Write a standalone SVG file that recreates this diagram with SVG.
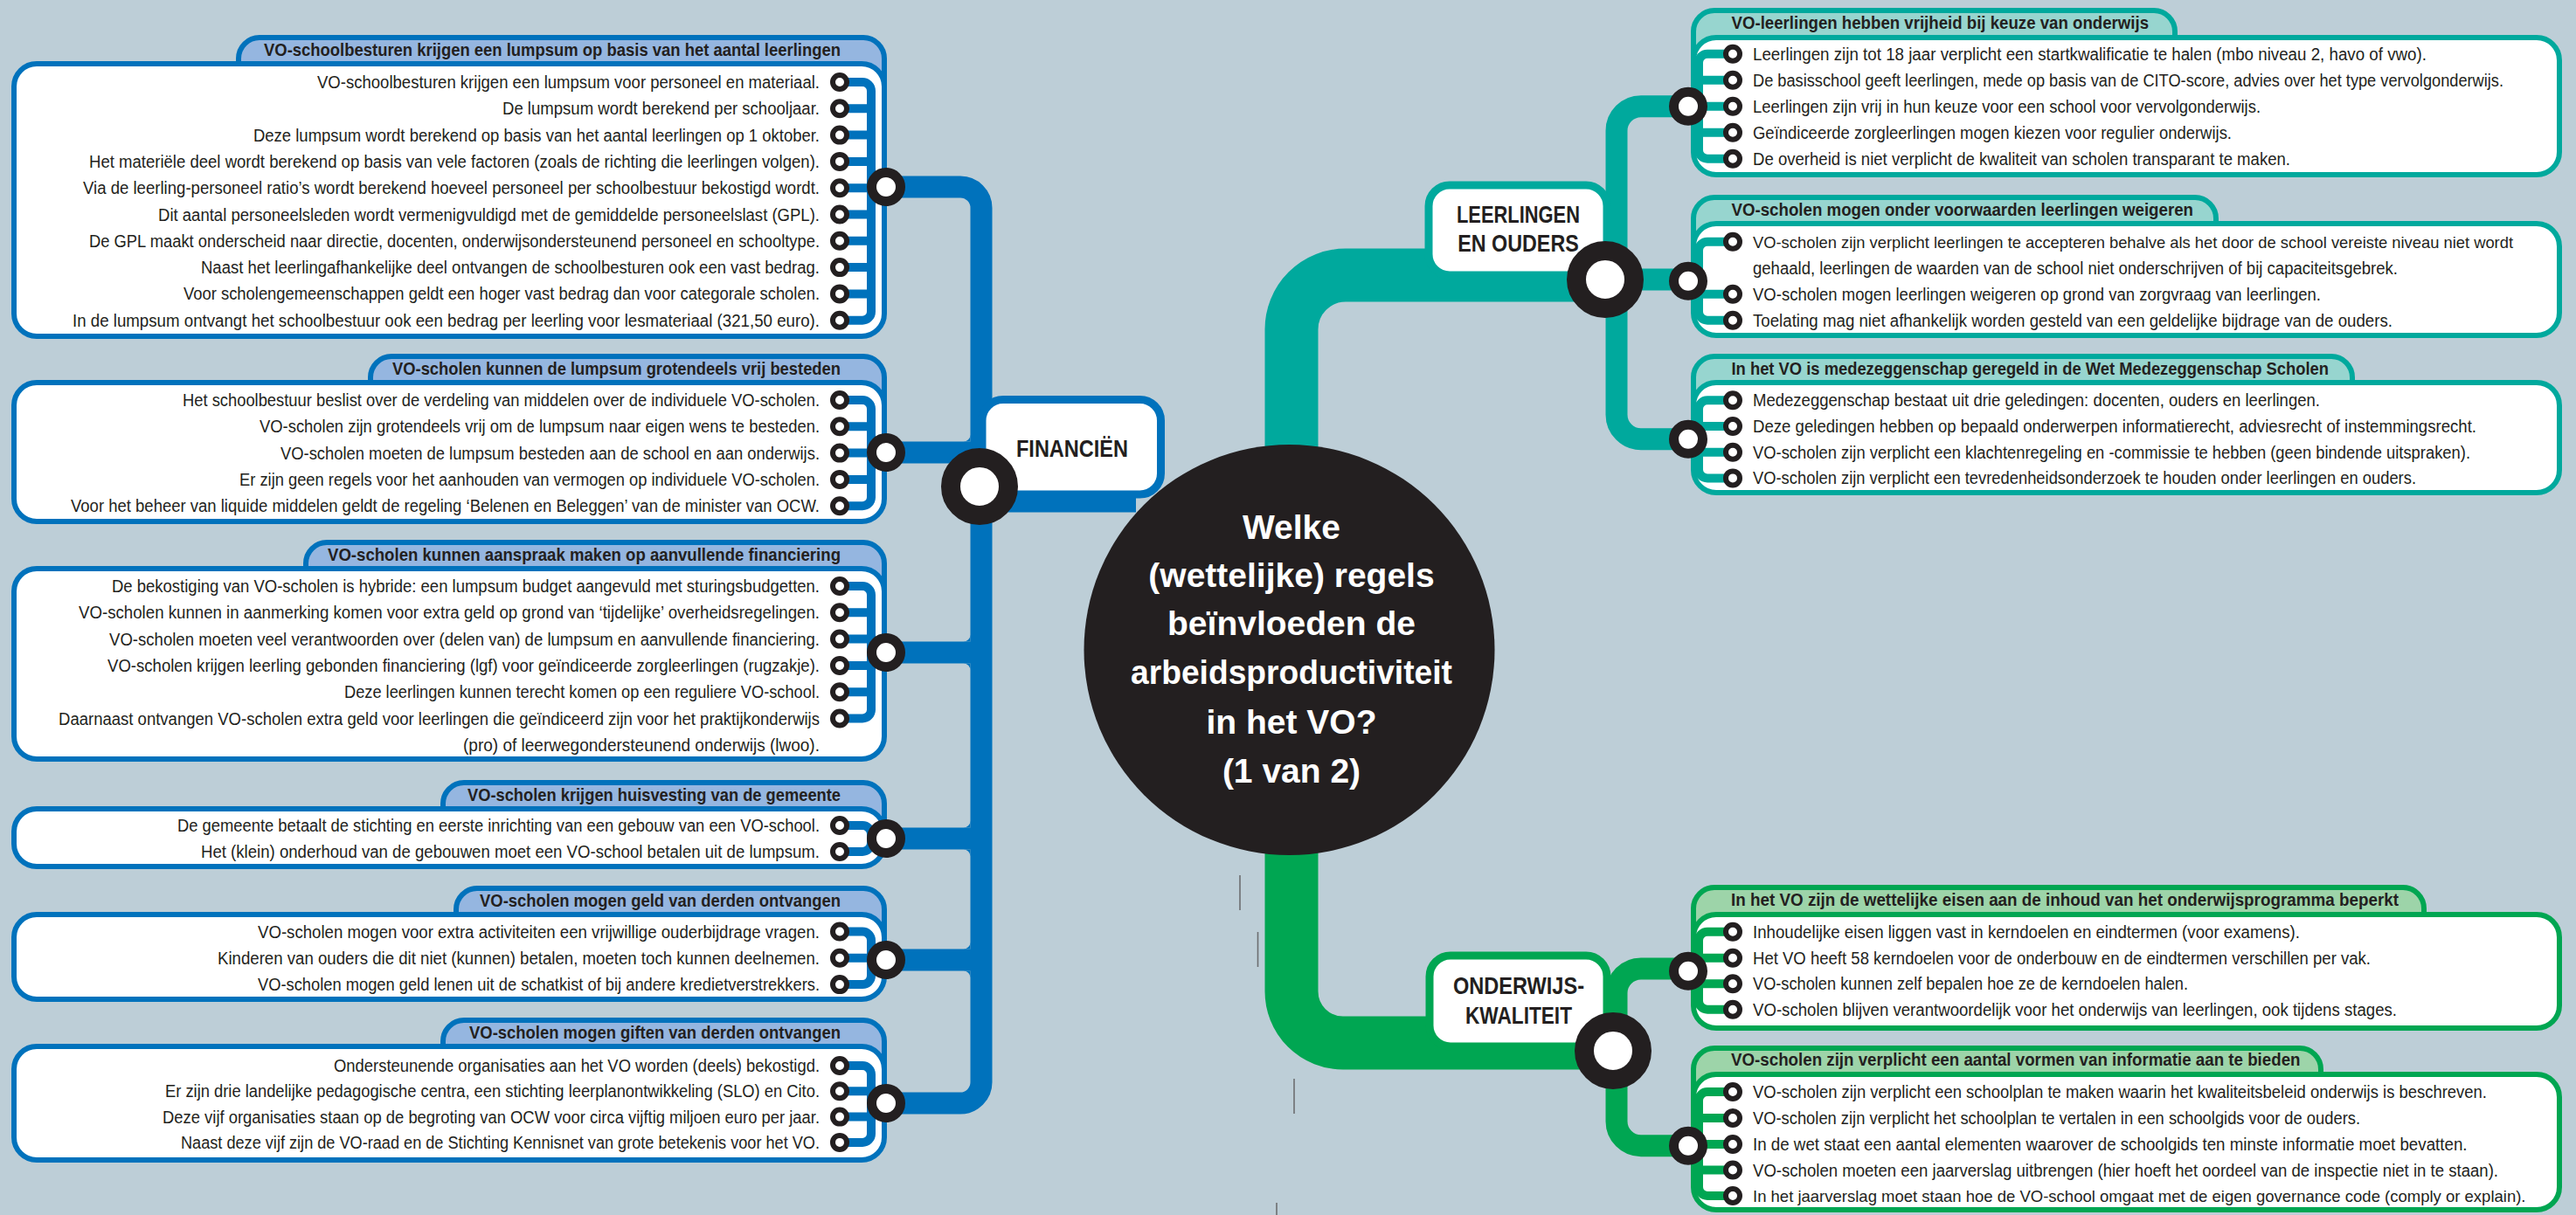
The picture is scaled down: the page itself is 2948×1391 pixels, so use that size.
<svg xmlns="http://www.w3.org/2000/svg" width="2948" height="1391" viewBox="0 0 2948 1391">
<style>
  text{font-family:"Liberation Sans",Arial,sans-serif;fill:#231F20}
  .hd{font-weight:bold;font-size:21px}
  .it{font-size:20px}
  .it.long{font-size:18.5px}
  .l{text-anchor:end}
  .lbl{font-weight:bold;font-size:28px;text-anchor:middle}
  .ttl{font-weight:bold;font-size:39px;text-anchor:middle;fill:#fff}
  .bx{fill:#fff;stroke-width:6}
  .tab{stroke-width:6}
  .bus{fill:none;stroke-width:10}
  .blue .bx,.blue .tab,.blue .bus{stroke:#0072BC}
  .blue .tab{fill:#95B6E0}
  .teal .bx,.teal .tab,.teal .bus{stroke:#00A99D}
  .teal .tab{fill:#97D5CF}
  .green .bx,.green .tab,.green .bus{stroke:#00A652}
  .green .tab{fill:#9DD4A9}
  .rs{fill:#fff;stroke:#231F20;stroke-width:6}
  .rb{fill:#fff;stroke:#231F20;stroke-width:11}
  .rh{fill:#fff;stroke:#231F20;stroke-width:22}
  .ln{fill:none;stroke-linecap:butt}
  .lb{stroke:#0072BC}
  .lt{stroke:#00A99D}
  .lg{stroke:#00A652}
  .fb{fill:#0072BC}
  .lab{fill:#fff;stroke-width:9}
  .mark{stroke:#6D6E71;stroke-width:1.6}
</style>

<rect width="2948" height="1391" fill="#BDCED7"/>

<!-- connectors: main lines and branch lines -->
<g id="connectors">
  <!-- main bands from the central question -->
  <path class="ln lb" stroke-width="61" d="M1121 556H1300"/>
  <path class="ln lt" stroke-width="61" d="M1478 540V377A62 62 0 0 1 1540 315H1837"/>
  <path class="ln lg" stroke-width="61" d="M1478 960V1135A59 59 0 0 0 1537 1194H1846"/>

  <!-- financien trunk -->
  <path class="ln lb" stroke-width="25" d="M1014 214H1099A24 24 0 0 1 1123 238V1239A24 24 0 0 1 1099 1263H1014"/>
  <path class="ln lb" stroke-width="25" d="M1014 518H1123M1014 747H1123M1014 960H1123M1014 1099H1123"/>
  <path class="fb" d="M1102.5 734.5A8 8 0 0 0 1110.5 726.5V734.5ZM1102.5 759.5A8 8 0 0 1 1110.5 767.5V759.5ZM1102.5 947.5A8 8 0 0 0 1110.5 939.5V947.5ZM1102.5 972.5A8 8 0 0 1 1110.5 980.5V972.5ZM1102.5 1086.5A8 8 0 0 0 1110.5 1078.5V1086.5ZM1102.5 1111.5A8 8 0 0 1 1110.5 1119.5V1111.5ZM1102.5 505.5A8 8 0 0 0 1110.5 497.5V505.5Z"/>

  <!-- leerlingen trunk -->
  <path class="ln lt" stroke-width="25" d="M1932 121.7H1878A28 28 0 0 0 1850 149.7V474.7A28 28 0 0 0 1878 502.7H1932"/>
  <path class="ln lt" stroke-width="25" d="M1837 320H1932"/>

  <!-- onderwijskwaliteit trunk -->
  <path class="ln lg" stroke-width="25" d="M1932 1109H1878A28 28 0 0 0 1850 1137V1283.7A28 28 0 0 0 1878 1311.7H1932"/>
</g>

<!-- ===== FINANCIEN boxes ===== -->
<g id="box-lumpsum" class="blue">
  <path class="tab" d="M273 73V67A24 24 0 0 1 297 43H988A24 24 0 0 1 1012 67V99H982V73Z"/>
  <rect class="bx" x="16" y="73" width="996" height="312" rx="26"/>
  <text class="hd l" x="962" y="64" textLength="660" lengthAdjust="spacingAndGlyphs">VO-schoolbesturen krijgen een lumpsum op basis van het aantal leerlingen</text>
  <path class="bus" d="M961 94H987A10 10 0 0 1 997 104V356.7A10 10 0 0 1 987 366.7H961M961 124.3H997M961 154.6H997M961 184.9H997M961 215.2H997M961 245.5H997M961 275.8H997M961 306.1H997M961 336.4H997"/>
  <circle class="rs" cx="961" cy="94" r="8"/><circle class="rs" cx="961" cy="124.3" r="8"/><circle class="rs" cx="961" cy="154.6" r="8"/><circle class="rs" cx="961" cy="184.9" r="8"/><circle class="rs" cx="961" cy="215.2" r="8"/><circle class="rs" cx="961" cy="245.5" r="8"/><circle class="rs" cx="961" cy="275.8" r="8"/><circle class="rs" cx="961" cy="306.1" r="8"/><circle class="rs" cx="961" cy="336.4" r="8"/><circle class="rs" cx="961" cy="366.7" r="8"/>
  <text class="it l" x="938" y="101" textLength="575" lengthAdjust="spacingAndGlyphs">VO-schoolbesturen krijgen een lumpsum voor personeel en materiaal.</text>
  <text class="it l" x="938" y="131.3" textLength="363" lengthAdjust="spacingAndGlyphs">De lumpsum wordt berekend per schooljaar.</text>
  <text class="it l" x="938" y="161.6" textLength="648" lengthAdjust="spacingAndGlyphs">Deze lumpsum wordt berekend op basis van het aantal leerlingen op 1 oktober.</text>
  <text class="it l" x="938" y="191.9" textLength="836" lengthAdjust="spacingAndGlyphs">Het materiële deel wordt berekend op basis van vele factoren (zoals de richting die leerlingen volgen).</text>
  <text class="it l" x="938" y="222.2" textLength="843" lengthAdjust="spacingAndGlyphs">Via de leerling-personeel ratio’s wordt berekend hoeveel personeel per schoolbestuur bekostigd wordt.</text>
  <text class="it l" x="938" y="252.5" textLength="757" lengthAdjust="spacingAndGlyphs">Dit aantal personeelsleden wordt vermenigvuldigd met de gemiddelde personeelslast (GPL).</text>
  <text class="it l" x="938" y="282.8" textLength="836" lengthAdjust="spacingAndGlyphs">De GPL maakt onderscheid naar directie, docenten, onderwijsondersteunend personeel en schooltype.</text>
  <text class="it l" x="938" y="313.1" textLength="708" lengthAdjust="spacingAndGlyphs">Naast het leerlingafhankelijke deel ontvangen de schoolbesturen ook een vast bedrag.</text>
  <text class="it l" x="938" y="343.4" textLength="728" lengthAdjust="spacingAndGlyphs">Voor scholengemeenschappen geldt een hoger vast bedrag dan voor categorale scholen.</text>
  <text class="it l" x="938" y="373.7" textLength="855" lengthAdjust="spacingAndGlyphs">In de lumpsum ontvangt het schoolbestuur ook een bedrag per leerling voor lesmateriaal (321,50 euro).</text>
  <circle class="rb" cx="1014" cy="214" r="16.5"/>
</g>

<g id="box-besteden" class="blue">
  <path class="tab" d="M424 438V432A24 24 0 0 1 448 408H988A24 24 0 0 1 1012 432V464H982V438Z"/>
  <rect class="bx" x="16" y="438" width="996" height="159" rx="26"/>
  <text class="hd l" x="962" y="429" textLength="513" lengthAdjust="spacingAndGlyphs">VO-scholen kunnen de lumpsum grotendeels vrij besteden</text>
  <path class="bus" d="M961 458H987A10 10 0 0 1 997 468V569.2A10 10 0 0 1 987 579.2H961M961 488.3H997M961 518.6H997M961 548.9H997"/>
  <circle class="rs" cx="961" cy="458" r="8"/><circle class="rs" cx="961" cy="488.3" r="8"/><circle class="rs" cx="961" cy="518.6" r="8"/><circle class="rs" cx="961" cy="548.9" r="8"/><circle class="rs" cx="961" cy="579.2" r="8"/>
  <text class="it l" x="938" y="465" textLength="729" lengthAdjust="spacingAndGlyphs">Het schoolbestuur beslist over de verdeling van middelen over de individuele VO-scholen.</text>
  <text class="it l" x="938" y="495.3" textLength="641" lengthAdjust="spacingAndGlyphs">VO-scholen zijn grotendeels vrij om de lumpsum naar eigen wens te besteden.</text>
  <text class="it l" x="938" y="525.6" textLength="617" lengthAdjust="spacingAndGlyphs">VO-scholen moeten de lumpsum besteden aan de school en aan onderwijs.</text>
  <text class="it l" x="938" y="555.9" textLength="664" lengthAdjust="spacingAndGlyphs">Er zijn geen regels voor het aanhouden van vermogen op individuele VO-scholen.</text>
  <text class="it l" x="938" y="586.2" textLength="857" lengthAdjust="spacingAndGlyphs">Voor het beheer van liquide middelen geldt de regeling ‘Belenen en Beleggen’ van de minister van OCW.</text>
  <circle class="rb" cx="1014" cy="518" r="16.5"/>
</g>

<g id="box-aanvullend" class="blue">
  <path class="tab" d="M350 651V645A24 24 0 0 1 374 621H988A24 24 0 0 1 1012 645V677H982V651Z"/>
  <rect class="bx" x="16" y="651" width="996" height="218" rx="26"/>
  <text class="hd l" x="962" y="642" textLength="587" lengthAdjust="spacingAndGlyphs">VO-scholen kunnen aanspraak maken op aanvullende financiering</text>
  <path class="bus" d="M961 671H987A10 10 0 0 1 997 681V812.5A10 10 0 0 1 987 822.5H961M961 701.3H997M961 731.6H997M961 761.9H997M961 792.2H997"/>
  <circle class="rs" cx="961" cy="671" r="8"/><circle class="rs" cx="961" cy="701.3" r="8"/><circle class="rs" cx="961" cy="731.6" r="8"/><circle class="rs" cx="961" cy="761.9" r="8"/><circle class="rs" cx="961" cy="792.2" r="8"/><circle class="rs" cx="961" cy="822.5" r="8"/>
  <text class="it l" x="938" y="678" textLength="810" lengthAdjust="spacingAndGlyphs">De bekostiging van VO-scholen is hybride: een lumpsum budget aangevuld met sturingsbudgetten.</text>
  <text class="it l" x="938" y="708.3" textLength="848" lengthAdjust="spacingAndGlyphs">VO-scholen kunnen in aanmerking komen voor extra geld op grond van ‘tijdelijke’ overheidsregelingen.</text>
  <text class="it l" x="938" y="738.6" textLength="813" lengthAdjust="spacingAndGlyphs">VO-scholen moeten veel verantwoorden over (delen van) de lumpsum en aanvullende financiering.</text>
  <text class="it l" x="938" y="768.9" textLength="815" lengthAdjust="spacingAndGlyphs">VO-scholen krijgen leerling gebonden financiering (lgf) voor geïndiceerde zorgleerlingen (rugzakje).</text>
  <text class="it l" x="938" y="799.2" textLength="544" lengthAdjust="spacingAndGlyphs">Deze leerlingen kunnen terecht komen op een reguliere VO-school.</text>
  <text class="it l" x="938" y="829.5" textLength="871" lengthAdjust="spacingAndGlyphs">Daarnaast ontvangen VO-scholen extra geld voor leerlingen die geïndiceerd zijn voor het praktijkonderwijs</text>
  <text class="it l" x="938" y="859.8" textLength="408" lengthAdjust="spacingAndGlyphs">(pro) of leerwegondersteunend onderwijs (lwoo).</text>
  <circle class="rb" cx="1014" cy="747" r="16.5"/>
</g>

<g id="box-huisvesting" class="blue">
  <path class="tab" d="M507 926V920A24 24 0 0 1 531 896H988A24 24 0 0 1 1012 920V952H982V926Z"/>
  <rect class="bx" x="16" y="926" width="996" height="66" rx="26"/>
  <text class="hd l" x="962" y="917" textLength="427" lengthAdjust="spacingAndGlyphs">VO-scholen krijgen huisvesting van de gemeente</text>
  <path class="bus" d="M961 945H987A10 10 0 0 1 997 955V965A10 10 0 0 1 987 975H961"/>
  <circle class="rs" cx="961" cy="945" r="8"/><circle class="rs" cx="961" cy="975" r="8"/>
  <text class="it l" x="938" y="952" textLength="735" lengthAdjust="spacingAndGlyphs">De gemeente betaalt de stichting en eerste inrichting van een gebouw van een VO-school.</text>
  <text class="it l" x="938" y="982" textLength="708" lengthAdjust="spacingAndGlyphs">Het (klein) onderhoud van de gebouwen moet een VO-school betalen uit de lumpsum.</text>
  <circle class="rb" cx="1014" cy="960" r="16.5"/>
</g>

<g id="box-geld-derden" class="blue">
  <path class="tab" d="M522 1047V1041A24 24 0 0 1 546 1017H988A24 24 0 0 1 1012 1041V1073H982V1047Z"/>
  <rect class="bx" x="16" y="1047" width="996" height="97" rx="26"/>
  <text class="hd l" x="962" y="1038" textLength="413" lengthAdjust="spacingAndGlyphs">VO-scholen mogen geld van derden ontvangen</text>
  <path class="bus" d="M961 1066.5H987A10 10 0 0 1 997 1076.5V1117.1A10 10 0 0 1 987 1127.1H961M961 1096.8H997"/>
  <circle class="rs" cx="961" cy="1066.5" r="8"/><circle class="rs" cx="961" cy="1096.8" r="8"/><circle class="rs" cx="961" cy="1127.1" r="8"/>
  <text class="it l" x="938" y="1073.5" textLength="643" lengthAdjust="spacingAndGlyphs">VO-scholen mogen voor extra activiteiten een vrijwillige ouderbijdrage vragen.</text>
  <text class="it l" x="938" y="1103.8" textLength="689" lengthAdjust="spacingAndGlyphs">Kinderen van ouders die dit niet (kunnen) betalen, moeten toch kunnen deelnemen.</text>
  <text class="it l" x="938" y="1134.1" textLength="643" lengthAdjust="spacingAndGlyphs">VO-scholen mogen geld lenen uit de schatkist of bij andere kredietverstrekkers.</text>
  <circle class="rb" cx="1014" cy="1099" r="16.5"/>
</g>

<g id="box-giften" class="blue">
  <path class="tab" d="M507 1198V1192A24 24 0 0 1 531 1168H988A24 24 0 0 1 1012 1192V1224H982V1198Z"/>
  <rect class="bx" x="16" y="1198" width="996" height="130" rx="26"/>
  <text class="hd l" x="962" y="1189" textLength="425" lengthAdjust="spacingAndGlyphs">VO-scholen mogen giften van derden ontvangen</text>
  <path class="bus" d="M961 1220H987A10 10 0 0 1 997 1230V1297.9A10 10 0 0 1 987 1307.9H961M961 1249.3H997M961 1278.6H997"/>
  <circle class="rs" cx="961" cy="1220" r="8"/><circle class="rs" cx="961" cy="1249.3" r="8"/><circle class="rs" cx="961" cy="1278.6" r="8"/><circle class="rs" cx="961" cy="1307.9" r="8"/>
  <text class="it l" x="938" y="1227" textLength="556" lengthAdjust="spacingAndGlyphs">Ondersteunende organisaties aan het VO worden (deels) bekostigd.</text>
  <text class="it l" x="938" y="1256.3" textLength="749" lengthAdjust="spacingAndGlyphs">Er zijn drie landelijke pedagogische centra, een stichting leerplanontwikkeling (SLO) en Cito.</text>
  <text class="it l" x="938" y="1285.6" textLength="752" lengthAdjust="spacingAndGlyphs">Deze vijf organisaties staan op de begroting van OCW voor circa vijftig miljoen euro per jaar.</text>
  <text class="it l" x="938" y="1314.9" textLength="731" lengthAdjust="spacingAndGlyphs">Naast deze vijf zijn de VO-raad en de Stichting Kennisnet van grote betekenis voor het VO.</text>
  <circle class="rb" cx="1014" cy="1263" r="16.5"/>
</g>

<!-- ===== LEERLINGEN EN OUDERS boxes ===== -->
<g id="box-keuze" class="teal">
  <path class="tab" d="M2489 43V36A24 24 0 0 0 2465 12H1962A24 24 0 0 0 1938 36V69H1968V43Z"/>
  <rect class="bx" x="1938" y="43" width="991" height="157" rx="26"/>
  <text class="hd" x="1981.5" y="32.5" textLength="477.5" lengthAdjust="spacingAndGlyphs">VO-leerlingen hebben vrijheid bij keuze van onderwijs</text>
  <path class="bus" d="M1983 61.7H1954A10 10 0 0 0 1944 71.7V171.7A10 10 0 0 0 1954 181.7H1983M1944 91.7H1983M1944 121.7H1983M1944 151.7H1983"/>
  <circle class="rs" cx="1983" cy="61.7" r="8"/><circle class="rs" cx="1983" cy="91.7" r="8"/><circle class="rs" cx="1983" cy="121.7" r="8"/><circle class="rs" cx="1983" cy="151.7" r="8"/><circle class="rs" cx="1983" cy="181.7" r="8"/>
  <text class="it" x="2006" y="68.7" textLength="771" lengthAdjust="spacingAndGlyphs">Leerlingen zijn tot 18 jaar verplicht een startkwalificatie te halen (mbo niveau 2, havo of vwo).</text>
  <text class="it" x="2006" y="98.7" textLength="859" lengthAdjust="spacingAndGlyphs">De basisschool geeft leerlingen, mede op basis van de CITO-score, advies over het type vervolgonderwijs.</text>
  <text class="it" x="2006" y="128.7" textLength="581" lengthAdjust="spacingAndGlyphs">Leerlingen zijn vrij in hun keuze voor een school voor vervolgonderwijs.</text>
  <text class="it" x="2006" y="158.7" textLength="548" lengthAdjust="spacingAndGlyphs">Geïndiceerde zorgleerlingen mogen kiezen voor regulier onderwijs.</text>
  <text class="it" x="2006" y="188.7" textLength="615" lengthAdjust="spacingAndGlyphs">De overheid is niet verplicht de kwaliteit van scholen transparant te maken.</text>
  <circle class="rb" cx="1932" cy="121.7" r="16.5"/>
</g>

<g id="box-weigeren" class="teal">
  <path class="tab" d="M2536 256V250A24 24 0 0 0 2512 226H1962A24 24 0 0 0 1938 250V282H1968V256Z"/>
  <rect class="bx" x="1938" y="256" width="991" height="128" rx="26"/>
  <text class="hd" x="1981.5" y="246.5" textLength="528.5" lengthAdjust="spacingAndGlyphs">VO-scholen mogen onder voorwaarden leerlingen weigeren</text>
  <path class="bus" d="M1983 276.7H1954A10 10 0 0 0 1944 286.7V356.7A10 10 0 0 0 1954 366.7H1983M1944 336.7H1983"/>
  <circle class="rs" cx="1983" cy="276.7" r="8"/><circle class="rs" cx="1983" cy="336.7" r="8"/><circle class="rs" cx="1983" cy="366.7" r="8"/>
  <text class="it long" x="2006" y="283.7" textLength="870" lengthAdjust="spacingAndGlyphs">VO-scholen zijn verplicht leerlingen te accepteren behalve als het door de school vereiste niveau niet wordt</text>
  <text class="it" x="2006" y="313.7" textLength="738" lengthAdjust="spacingAndGlyphs">gehaald, leerlingen de waarden van de school niet onderschrijven of bij capaciteitsgebrek.</text>
  <text class="it" x="2006" y="343.7" textLength="650" lengthAdjust="spacingAndGlyphs">VO-scholen mogen leerlingen weigeren op grond van zorgvraag van leerlingen.</text>
  <text class="it" x="2006" y="373.7" textLength="732" lengthAdjust="spacingAndGlyphs">Toelating mag niet afhankelijk worden gesteld van een geldelijke bijdrage van de ouders.</text>
  <circle class="rb" cx="1932" cy="321.7" r="16.5"/>
</g>

<g id="box-medezeggenschap" class="teal">
  <path class="tab" d="M2692 438V432A24 24 0 0 0 2668 408H1962A24 24 0 0 0 1938 432V464H1968V438Z"/>
  <rect class="bx" x="1938" y="438" width="991" height="126" rx="26"/>
  <text class="hd" x="1981.5" y="428.5" textLength="683.5" lengthAdjust="spacingAndGlyphs">In het VO is medezeggenschap geregeld in de Wet Medezeggenschap Scholen</text>
  <path class="bus" d="M1983 458.3H1954A10 10 0 0 0 1944 468.3V537.4A10 10 0 0 0 1954 547.4H1983M1944 488H1983M1944 517.7H1983"/>
  <circle class="rs" cx="1983" cy="458.3" r="8"/><circle class="rs" cx="1983" cy="488" r="8"/><circle class="rs" cx="1983" cy="517.7" r="8"/><circle class="rs" cx="1983" cy="547.4" r="8"/>
  <text class="it" x="2006" y="465.3" textLength="649" lengthAdjust="spacingAndGlyphs">Medezeggenschap bestaat uit drie geledingen: docenten, ouders en leerlingen.</text>
  <text class="it" x="2006" y="495" textLength="828" lengthAdjust="spacingAndGlyphs">Deze geledingen hebben op bepaald onderwerpen informatierecht, adviesrecht of instemmingsrecht.</text>
  <text class="it" x="2006" y="524.7" textLength="821" lengthAdjust="spacingAndGlyphs">VO-scholen zijn verplicht een klachtenregeling en -commissie te hebben (geen bindende uitspraken).</text>
  <text class="it" x="2006" y="554.4" textLength="759" lengthAdjust="spacingAndGlyphs">VO-scholen zijn verplicht een tevredenheidsonderzoek te houden onder leerlingen en ouders.</text>
  <circle class="rb" cx="1932" cy="502.7" r="16.5"/>
</g>

<!-- ===== ONDERWIJSKWALITEIT boxes ===== -->
<g id="box-onderwijsprogramma" class="green">
  <path class="tab" d="M2774 1047V1040A24 24 0 0 0 2750 1016H1962A24 24 0 0 0 1938 1040V1073H1968V1047Z"/>
  <rect class="bx" x="1938" y="1047" width="991" height="130" rx="26"/>
  <text class="hd" x="1981" y="1037" textLength="764" lengthAdjust="spacingAndGlyphs">In het VO zijn de wettelijke eisen aan de inhoud van het onderwijsprogramma beperkt</text>
  <path class="bus" d="M1983 1066.7H1954A10 10 0 0 0 1944 1076.7V1145.7A10 10 0 0 0 1954 1155.7H1983M1944 1096.7H1983M1944 1126.2H1983"/>
  <circle class="rs" cx="1983" cy="1066.7" r="8"/><circle class="rs" cx="1983" cy="1096.7" r="8"/><circle class="rs" cx="1983" cy="1126.2" r="8"/><circle class="rs" cx="1983" cy="1155.7" r="8"/>
  <text class="it" x="2006" y="1073.7" textLength="626" lengthAdjust="spacingAndGlyphs">Inhoudelijke eisen liggen vast in kerndoelen en eindtermen (voor examens).</text>
  <text class="it" x="2006" y="1103.7" textLength="707" lengthAdjust="spacingAndGlyphs">Het VO heeft 58 kerndoelen voor de onderbouw en de eindtermen verschillen per vak.</text>
  <text class="it" x="2006" y="1133.2" textLength="498" lengthAdjust="spacingAndGlyphs">VO-scholen kunnen zelf bepalen hoe ze de kerndoelen halen.</text>
  <text class="it" x="2006" y="1162.7" textLength="737" lengthAdjust="spacingAndGlyphs">VO-scholen blijven verantwoordelijk voor het onderwijs van leerlingen, ook tijdens stages.</text>
  <circle class="rb" cx="1932" cy="1111.7" r="16.5"/>
</g>

<g id="box-informatie" class="green">
  <path class="tab" d="M2656 1230V1224A24 24 0 0 0 2632 1200H1962A24 24 0 0 0 1938 1224V1256H1968V1230Z"/>
  <rect class="bx" x="1938" y="1230" width="991" height="155" rx="26"/>
  <text class="hd" x="1981" y="1220" textLength="651.5" lengthAdjust="spacingAndGlyphs">VO-scholen zijn verplicht een aantal vormen van informatie aan te bieden</text>
  <path class="bus" d="M1983 1250H1954A10 10 0 0 0 1944 1260V1359A10 10 0 0 0 1954 1369H1983M1944 1280H1983M1944 1310H1983M1944 1339.5H1983"/>
  <circle class="rs" cx="1983" cy="1250" r="8"/><circle class="rs" cx="1983" cy="1280" r="8"/><circle class="rs" cx="1983" cy="1310" r="8"/><circle class="rs" cx="1983" cy="1339.5" r="8"/><circle class="rs" cx="1983" cy="1369" r="8"/>
  <text class="it" x="2006" y="1257" textLength="840" lengthAdjust="spacingAndGlyphs">VO-scholen zijn verplicht een schoolplan te maken waarin het kwaliteitsbeleid onderwijs is beschreven.</text>
  <text class="it" x="2006" y="1287" textLength="695" lengthAdjust="spacingAndGlyphs">VO-scholen zijn verplicht het schoolplan te vertalen in een schoolgids voor de ouders.</text>
  <text class="it" x="2006" y="1317" textLength="817.5" lengthAdjust="spacingAndGlyphs">In de wet staat een aantal elementen waarover de schoolgids ten minste informatie moet bevatten.</text>
  <text class="it" x="2006" y="1346.5" textLength="853" lengthAdjust="spacingAndGlyphs">VO-scholen moeten een jaarverslag uitbrengen (hier hoeft het oordeel van de inspectie niet in te staan).</text>
  <text class="it long" x="2006" y="1375.5" textLength="884.5" lengthAdjust="spacingAndGlyphs">In het jaarverslag moet staan hoe de VO-school omgaat met de eigen governance code (comply or explain).</text>
  <circle class="rb" cx="1932" cy="1311.7" r="16.5"/>
</g>

<!-- ===== theme hubs ===== -->
<g id="hub-financien">
  <rect class="lab" stroke="#0072BC" x="1124" y="457.5" width="204.5" height="108.5" rx="24"/>
  <text class="lbl" x="1227" y="523" textLength="128" lengthAdjust="spacingAndGlyphs">FINANCIËN</text>
  <circle class="rh" cx="1121" cy="557" r="33"/>
</g>

<g id="hub-leerlingen">
  <rect class="lab" stroke="#00A99D" x="1635" y="212" width="204" height="103" rx="24"/>
  <text class="lbl" x="1737.5" y="255" textLength="141" lengthAdjust="spacingAndGlyphs">LEERLINGEN</text>
  <text class="lbl" x="1737.5" y="288" textLength="138.5" lengthAdjust="spacingAndGlyphs">EN OUDERS</text>
  <circle class="rh" cx="1837" cy="320" r="33"/>
</g>

<g id="hub-onderwijs">
  <rect class="lab" stroke="#00A652" x="1636" y="1094" width="203" height="104" rx="24"/>
  <text class="lbl" x="1738" y="1138" textLength="150" lengthAdjust="spacingAndGlyphs">ONDERWIJS-</text>
  <text class="lbl" x="1738" y="1172" textLength="122" lengthAdjust="spacingAndGlyphs">KWALITEIT</text>
  <circle class="rh" cx="1846" cy="1203" r="33"/>
</g>

<!-- ===== central question ===== -->
<g id="central-question">
  <circle cx="1475.5" cy="744" r="235" fill="#231F20"/>
  <text class="ttl" x="1478" y="616.6">Welke</text>
  <text class="ttl" x="1478" y="672.4">(wettelijke) regels</text>
  <text class="ttl" x="1478" y="727.3">beïnvloeden de</text>
  <text class="ttl" x="1478" y="783" textLength="368" lengthAdjust="spacingAndGlyphs">arbeidsproductiviteit</text>
  <text class="ttl" x="1478" y="839.8">in het VO?</text>
  <text class="ttl" x="1478" y="895.6">(1 van 2)</text>
</g>

<!-- small vertical marks below the centre -->
<g id="marks">
  <path class="mark" d="M1419 1002V1042M1439.5 1067V1107M1481 1235V1275M1461 1377V1391"/>
</g>
</svg>
